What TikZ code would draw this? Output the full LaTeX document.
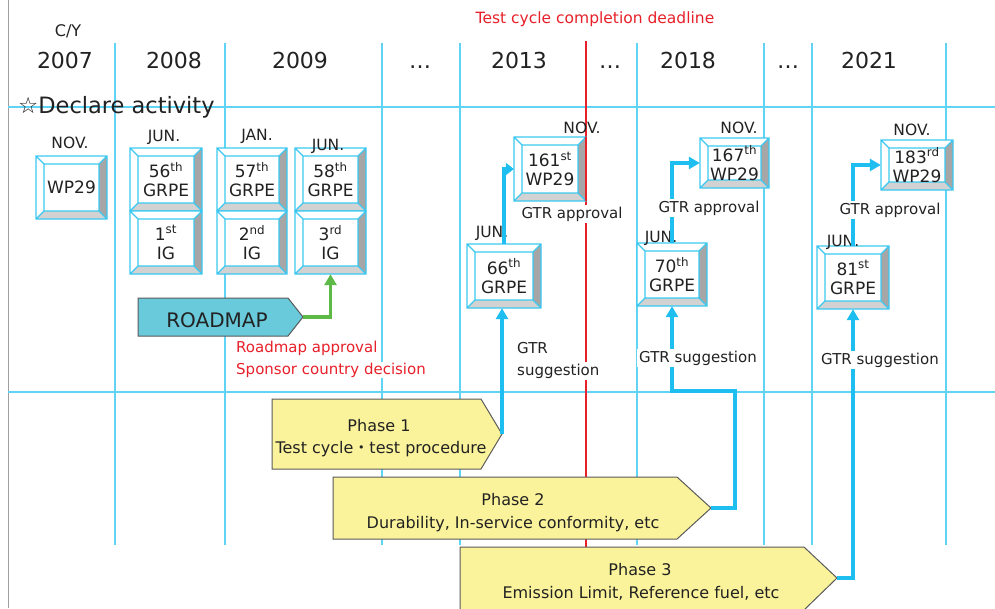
\documentclass[tikz,border=0pt]{standalone}
\usepackage{fontspec}
\setmainfont{DejaVu Sans}
\newfontfamily\cjk{Noto Sans CJK JP}
\usetikzlibrary{arrows.meta}
\definecolor{gridc}{RGB}{95,212,245}
\definecolor{connc}{RGB}{30,190,240}
\definecolor{bevl}{RGB}{60,200,240}
\definecolor{bevr}{RGB}{166,166,166}
\definecolor{bevb}{RGB}{210,210,210}
\definecolor{phasec}{RGB}{250,243,155}
\definecolor{phased}{RGB}{90,90,90}
\definecolor{roadc}{RGB}{105,202,220}
\definecolor{greenc}{RGB}{94,186,70}
\definecolor{redc}{RGB}{232,32,42}
\definecolor{txt}{RGB}{34,34,34}
\newcommand\bevbox[6]{%
 \fill[white] (#2,#3) rectangle (#4,#5);
 \fill[bevr] (#4,#3) -- (#4,#5) -- ({#4-8},{#5-8}) -- ({#4-8},{#3+8}) -- cycle;
 \fill[bevb] (#2,#5) -- (#4,#5) -- ({#4-8},{#5-8}) -- ({#2+8},{#5-8}) -- cycle;
 \draw[bevl, line width=1.1pt] (#2,#3) rectangle (#4,#5) ({#2+8},{#3+8}) rectangle ({#4-8},{#5-8})
   (#2,#3) -- ({#2+8},{#3+8}) (#4,#3) -- ({#4-8},{#3+8}) (#2,#5) -- ({#2+8},{#5-8}) (#4,#5) -- ({#4-8},{#5-8});
 \node[boxtxt, minimum width={#4-#2}, minimum height={#5-#3}] (#1) at ({(#2+#4)/2},{(#3+#5)/2}) {#6};
}
\tikzset{
 yr/.style={font=\fontsize{22}{26}\selectfont, text=txt, anchor=base},
 mon/.style={font=\fontsize{15.5}{18}\selectfont, text=txt, anchor=base, inner sep=0pt},
 boxtxt/.style={font=\fontsize{17}{19}\selectfont, text=txt, align=center, inner sep=0pt},
 lbl/.style={font=\fontsize{15}{18}\selectfont, text=txt, fill=white, inner sep=2pt, anchor=base},
 redlbl/.style={font=\fontsize{15}{18}\selectfont, text=redc, fill=white, inner sep=1pt, anchor=base west},
 gridln/.style={draw=gridc, line width=1.2pt},
 redln/.style={draw=redc, line width=2pt},
 conn/.style={draw=connc, line width=4pt, -{Triangle[length=11pt,width=12pt]}},
 phase/.style={fill=phasec, draw=phased, line width=1pt},
 phtxt/.style={font=\fontsize{16}{20}\selectfont, text=txt, anchor=base, inner sep=0pt},
}
\begin{document}
\begin{tikzpicture}[x=1pt,y=-1pt]
\useasboundingbox (0,0) rectangle (995,608);
\fill[white] (0,0) rectangle (995,608);
% grid
\draw[gray!75, line width=1.2pt] (8.5,0) -- (8.5,608);
\draw[gridln] (8,107) -- (995,107) (8,392) -- (995,392);
\foreach \x in {115,225,382,460,637,764,812,946}
  \draw[gridln] (\x,43) -- (\x,545);
% red deadline line
\draw[redln] (586,41) -- (586,547);
% titles
\node[font=\fontsize{15.5}{18}\selectfont, text=redc, anchor=base] (deadline) at (595,23) {Test cycle completion deadline};
\node[font=\fontsize{16}{18}\selectfont, text=txt, anchor=base] (cy) at (68,36) {C/Y};
\node[yr] (y2007) at (65,68) {2007};
\node[yr] (y2008) at (174,68) {2008};
\node[yr] (y2009) at (300,68) {2009};
\node[yr] (d1) at (420,68) {…};
\node[yr] (y2013) at (519,68) {2013};
\node[yr] (d2) at (610,68) {…};
\node[yr] (y2018) at (688,68) {2018};
\node[yr] (d3) at (788,68) {…};
\node[yr] (y2021) at (869,68) {2021};
\node[font=\fontsize{22.5}{24}\selectfont, text=txt, anchor=base west, inner sep=0pt] (declare) at (18,113) {☆Declare activity};
% phases
\draw[phase] (272,399) -- (481,399) -- (502,434) -- (481,469) -- (272,469) -- cycle;
\coordinate (ph1tip) at (502,434);
\node[phtxt] (ph1a) at (379,431) {Phase 1};
\node[phtxt] (ph1b) at (381,453) {Test cycle{\cjk ・}test procedure};
\draw[phase] (333,477) -- (677,477) -- (711,508) -- (677,539) -- (333,539) -- cycle;
\coordinate (ph2tip) at (711,508);
\node[phtxt] (ph2a) at (513,505) {Phase 2};
\node[phtxt] (ph2b) at (513,528) {Durability, In-service conformity, etc};
\draw[phase] (460,547) -- (804,547) -- (837,578) -- (804,610) -- (460,610) -- cycle;
\coordinate (ph3tip) at (837,578);
\node[phtxt] (ph3a) at (640,575) {Phase 3};
\node[phtxt] (ph3b) at (641,598) {Emission Limit, Reference fuel, etc};
% roadmap
\draw[fill=roadc, draw=phased, line width=1pt] (138,298) -- (288,298) -- (303,317) -- (288,336) -- (138,336) -- cycle;
\coordinate (roadtip) at (303,317);
\node[font=\fontsize{20}{22}\selectfont, text=txt, anchor=base] (road) at (217,327) {ROADMAP};
% boxes
\bevbox{wpA}{36}{156}{107}{219}{WP29}
\bevbox{g56}{130}{148}{202}{211}{56\textsuperscript{th}\\GRPE}
\bevbox{ig1}{130}{211}{202}{274}{1\textsuperscript{st}\\IG}
\bevbox{g57}{217}{148}{287}{211}{57\textsuperscript{th}\\GRPE}
\bevbox{ig2}{217}{211}{287}{274}{2\textsuperscript{nd}\\IG}
\bevbox{g58}{295}{148}{366}{211}{58\textsuperscript{th}\\GRPE}
\bevbox{ig3}{295}{211}{366}{274}{3\textsuperscript{rd}\\IG}
\bevbox{wp161}{514}{137}{586}{201}{161\textsuperscript{st}\\WP29}
\bevbox{wp167}{700}{138}{769}{188}{167\textsuperscript{th}\\WP29}
\bevbox{wp183}{881}{140}{953}{190}{183\textsuperscript{rd}\\WP29}
\bevbox{g66}{467}{244}{541}{308}{66\textsuperscript{th}\\GRPE}
\bevbox{g70}{637}{243}{707}{306}{70\textsuperscript{th}\\GRPE}
\bevbox{g81}{817}{246}{889}{309}{81\textsuperscript{st}\\GRPE}
% deadline line shows along the edge of the 161st box
\draw[redln] (wp161.north east) -- (wp161.south east);
% month labels
\node[mon] (m1) at (70,148) {NOV.};
\node[mon] (m2) at (164,141) {JUN.};
\node[mon] (m3) at (257,140) {JAN.};
\node[mon] (m4) at (328,150) {JUN.};
\node[mon] (m5) at (582,133) {NOV.};
\node[mon] (m6) at (739,133) {NOV.};
\node[mon] (m7) at (912,135) {NOV.};
\node[mon] (m8) at (492,237) {JUN.};
\node[mon] (m9) at (661,242) {JUN.};
\node[mon] (m10) at (843,246) {JUN.};
% connectors
\draw[greenc, line width=3.2pt, -{Triangle[length=11pt,width=12pt]}] (roadtip) -- (roadtip -| ig3.south) -- (ig3.south);
\draw[conn] (ph1tip) -- (ph1tip |- g66.south);
\draw[connc, line width=4pt, -{Triangle[length=8pt,width=12pt]}] (g66.north) |- (wp161.west);
\draw[conn] (ph2tip) -- (735,508) -- (735,391) -- (g70.south |- 0,391) -- (g70.south);
\draw[conn] (g70.north) |- (wp167.west);
\draw[conn] (ph3tip) -- (ph3tip -| g81.south) -- (g81.south);
\draw[conn] (g81.north) |- (wp183.west);
% white labels
\node[lbl] (ap1) at (572,218) {GTR approval};
\node[lbl] (ap2) at (709,212) {GTR approval};
\node[lbl] (ap3) at (890,214) {GTR approval};
\node[lbl, anchor=base west] (sg1a) at (515,353) {GTR};
\node[lbl, anchor=base west] (sg1b) at (515,375) {suggestion};
\node[lbl] (sg2) at (698,362) {GTR suggestion};
\node[lbl] (sg3) at (880,364) {GTR suggestion};
\node[redlbl] (r1) at (235,352) {Roadmap approval};
\node[redlbl] (r2) at (235,374) {Sponsor country decision};
\end{tikzpicture}
\end{document}
